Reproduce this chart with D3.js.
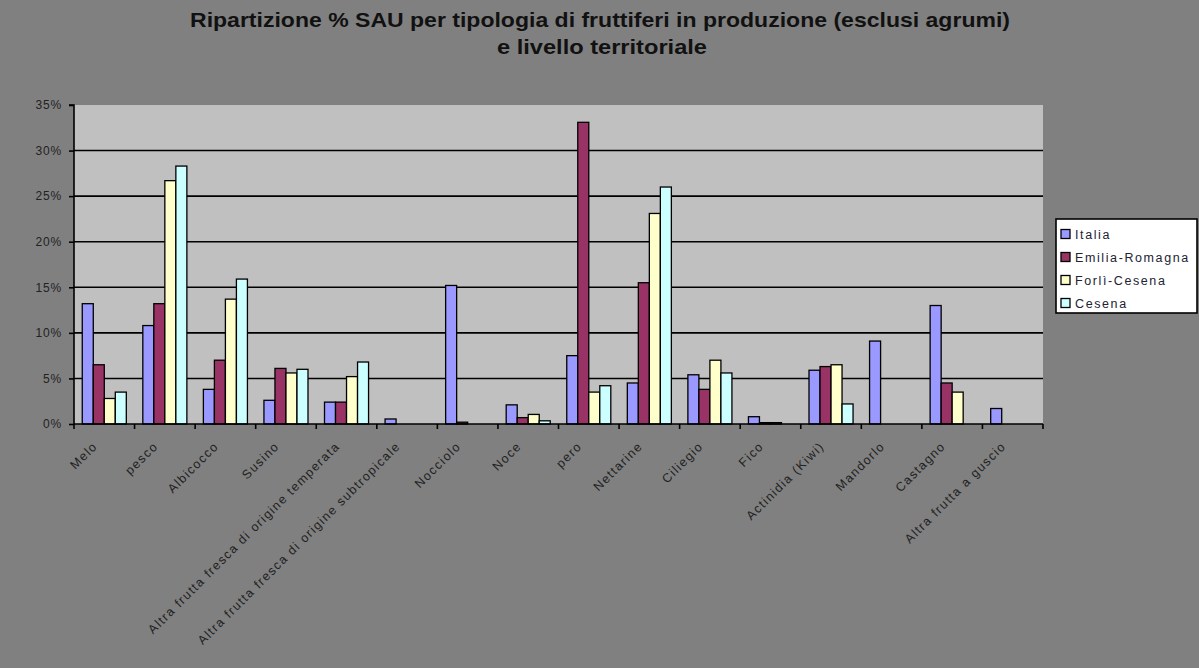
<!DOCTYPE html>
<html>
<head>
<meta charset="utf-8">
<script src="https://cdn.jsdelivr.net/npm/d3@7"></script>
<style>
  html, body { margin: 0; padding: 0; background: #808080; }
  svg { display: block; }
  text { font-family: "Liberation Sans", Arial, sans-serif; }
</style>
</head>
<body>
<svg id="chart" width="1199" height="668"></svg>
<script>
// Categorie di fruttiferi (asse X)
const categories = [
  "Melo", "pesco", "Albicocco", "Susino",
  "Altra frutta fresca di origine temperata",
  "Altra frutta fresca di origine subtropicale",
  "Nocciolo", "Noce", "pero", "Nettarine", "Ciliegio", "Fico",
  "Actinidia (Kiwi)", "Mandorlo", "Castagno", "Altra frutta a guscio"
];

// Livelli territoriali (serie)
const seriesNames = ["Italia", "Emilia-Romagna", "Forlì-Cesena", "Cesena"];

// Quote % di SAU per serie, nell'ordine delle categorie
const italia        = [13.2, 10.8, 3.8, 2.6, 2.4, 0.55, 15.2, 2.1, 7.5, 4.5, 5.4, 0.8, 5.9, 9.1, 13.0, 1.7];
const emiliaRomagna = [6.5, 13.2, 7.0, 6.1, 2.4, 0, 0.2, 0.7, 33.1, 15.5, 3.8, 0.15, 6.3, 0, 4.5, 0];
const forliCesena   = [2.8, 26.7, 13.7, 5.6, 5.2, 0, 0, 1.05, 3.5, 23.1, 7.0, 0.15, 6.5, 0, 3.5, 0];
const cesena        = [3.5, 28.3, 15.9, 6.0, 6.8, 0, 0, 0.35, 4.2, 26.0, 5.6, 0, 2.2, 0, 0, 0];

// Etichette dell'asse Y
const yTicks = [0, 5, 10, 15, 20, 25, 30, 35];

const seriesValues = [italia, emiliaRomagna, forliCesena, cesena];
const seriesColors = ["#9999ff", "#993366", "#ffffcc", "#ccffff"];

const svg = d3.select("#chart");
const W = 1199, H = 668;

svg.append("rect").attr("width", W).attr("height", H).attr("fill", "#808080");

// Titolo su due righe
svg.append("text")
  .attr("x", 600).attr("y", 27).attr("text-anchor", "middle")
  .attr("font-size", 20.5).attr("font-weight", 600).attr("fill", "#111")
  .attr("textLength", 820).attr("lengthAdjust", "spacingAndGlyphs")
  .text("Ripartizione % SAU per tipologia di fruttiferi in produzione (esclusi agrumi)");
svg.append("text")
  .attr("x", 602).attr("y", 54).attr("text-anchor", "middle")
  .attr("font-size", 20.5).attr("font-weight", 600).attr("fill", "#111")
  .attr("textLength", 210).attr("lengthAdjust", "spacingAndGlyphs")
  .text("e livello territoriale");

// Area del grafico
const plot = { left: 74, right: 1043, top: 105, bottom: 424 };

const x0 = d3.scaleBand()
  .domain(categories)
  .range([plot.left, plot.right])
  .paddingInner(0).paddingOuter(0);

// Gap width 150%: 4 barre + 1.5 barre di spazio per categoria
const barW = x0.bandwidth() / 5.5;
const x1 = d3.scaleBand()
  .domain(seriesNames)
  .range([barW * 0.75, barW * 0.75 + barW * 4]);

const y = d3.scaleLinear().domain([0, 35]).range([plot.bottom, plot.top]);

svg.append("rect")
  .attr("x", plot.left).attr("y", plot.top)
  .attr("width", plot.right - plot.left).attr("height", plot.bottom - plot.top)
  .attr("fill", "#c0c0c0");

// Griglia orizzontale
svg.append("g")
  .selectAll("line")
  .data(yTicks.filter(d => d > 0 && d < 35))
  .join("line")
  .attr("x1", plot.left).attr("x2", plot.right)
  .attr("y1", d => y(d)).attr("y2", d => y(d))
  .attr("stroke", "#000").attr("stroke-width", 1.6);

// Barre
const groups = svg.append("g")
  .selectAll("g")
  .data(categories)
  .join("g")
  .attr("transform", d => `translate(${x0(d)},0)`);

groups.selectAll("rect")
  .data((c, i) => seriesNames.map((s, k) => ({ s, k, v: seriesValues[k][i] })))
  .join("rect")
  .filter(d => d.v > 0)
  .attr("x", d => x1(d.s))
  .attr("y", d => y(d.v))
  .attr("width", x1.bandwidth())
  .attr("height", d => y(0) - y(d.v))
  .attr("fill", d => seriesColors[d.k])
  .attr("stroke", "#000").attr("stroke-width", 1.3);

// Asse Y
const yAxis = d3.axisLeft(y)
  .tickValues(yTicks)
  .tickSize(5)
  .tickFormat(d => d + "%");
const gy = svg.append("g")
  .attr("transform", `translate(${plot.left},0)`)
  .call(yAxis);
gy.select(".domain").attr("stroke", "#000").attr("stroke-width", 1.6)
  .attr("d", `M-5,${plot.top}H0V${plot.bottom}`);
gy.selectAll(".tick line").attr("stroke", "#000").attr("stroke-width", 1.6);
gy.selectAll(".tick text")
  .attr("x", -12)
  .attr("font-size", 12).attr("letter-spacing", 0.8).attr("fill", "#222")
  .attr("font-family", "'Liberation Sans', Arial, sans-serif");

// Asse X: tacche tra le categorie
const gx = svg.append("g");
gx.append("line")
  .attr("x1", plot.left).attr("x2", plot.right)
  .attr("y1", plot.bottom).attr("y2", plot.bottom)
  .attr("stroke", "#000").attr("stroke-width", 1.6);
gx.selectAll("line.tk")
  .data(categories.concat(["__end"]))
  .join("line")
  .attr("class", "tk")
  .attr("x1", (d, i) => plot.left + i * x0.step())
  .attr("x2", (d, i) => plot.left + i * x0.step())
  .attr("y1", plot.bottom).attr("y2", plot.bottom + 5)
  .attr("stroke", "#000").attr("stroke-width", 1.6);

// Etichette ruotate di 45°
gx.selectAll("text")
  .data(categories)
  .join("text")
  .attr("transform", d => `translate(${x0(d) + x0.bandwidth() / 2 - 6},${plot.bottom + 23}) rotate(-45)`)
  .attr("text-anchor", "end")
  .attr("font-size", 12.5)
  .attr("letter-spacing", 1.4)
  .attr("fill", "#222")
  .text(d => d);

// Legenda
const legend = svg.append("g");
legend.append("rect")
  .attr("x", 1056).attr("y", 219).attr("width", 141).attr("height", 94)
  .attr("fill", "#fff").attr("stroke", "#000").attr("stroke-width", 1.6);
const li = legend.selectAll("g.item")
  .data(seriesNames)
  .join("g")
  .attr("class", "item")
  .attr("transform", (d, i) => `translate(1061,${234 + i * 23})`);
li.append("rect")
  .attr("x", 0).attr("y", -4.5).attr("width", 9).attr("height", 9)
  .attr("fill", (d, i) => seriesColors[i])
  .attr("stroke", "#000").attr("stroke-width", 1.3);
li.append("text")
  .attr("x", 14).attr("y", 4.5)
  .attr("font-size", 12.5).attr("letter-spacing", 1.6).attr("fill", "#223")
  .text(d => d);
</script>
</body>
</html>
